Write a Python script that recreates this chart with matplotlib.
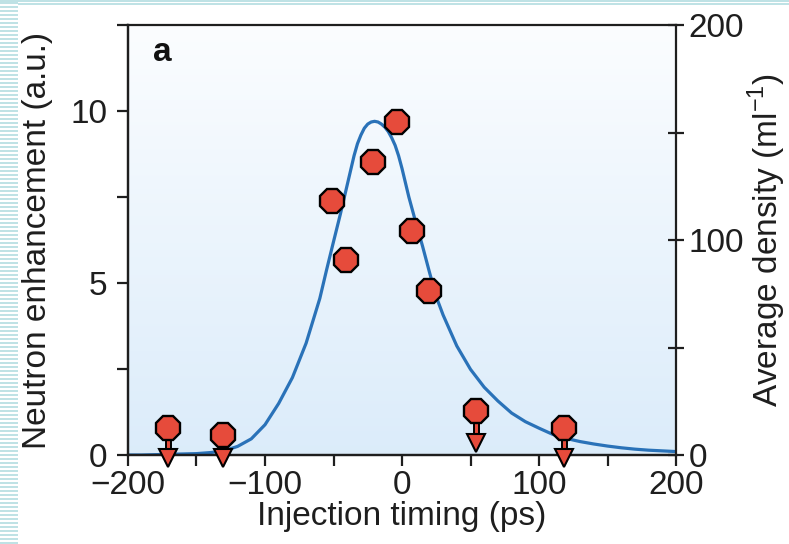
import numpy as np
import matplotlib
matplotlib.use("Agg")
import matplotlib.pyplot as plt
from matplotlib.patches import Rectangle

plt.rcParams['font.family'] = ['Liberation Sans', 'DejaVu Sans']

# ---- data ----
timing = [-171, -131, -51, -41, -21, -4, 7, 20, 54, 118]           # ps
enhancement = [0.79, 0.58, 7.38, 5.66, 8.51, 9.68, 6.5, 4.78, 1.28, 0.79]
limit_timing = [-171, -131, 54, 118]          # points shown as upper limits
limit_from = [0.79, 0.58, 1.28, 0.79]
limit_to = [-0.1, -0.1, 0.35, -0.1]

curve_t = [-200, -190, -180, -170, -160, -150, -140, -130, -120, -110, -100,
           -90, -80, -70, -60, -55, -50, -45, -40, -35, -32.5, -30, -27.5, -25,
           -22.5, -20, -17.5, -15, -12.5, -10, -7.5, -5, -2.5, 0, 5, 10, 15, 20,
           25, 30, 40, 50, 60, 70, 80, 90, 100,
           110, 120, 130, 140, 150, 160, 170, 180, 190, 200]
curve_enh = [0.00, 0.00, 0.01, 0.02, 0.03, 0.04, 0.07, 0.12, 0.25, 0.47, 0.88,
             1.5, 2.25, 3.25, 4.55, 5.39, 6.2, 7.0, 7.85, 8.7, 9.05, 9.3, 9.5, 9.62,
             9.68, 9.70, 9.68, 9.62, 9.53, 9.40, 9.22, 9.0, 8.7, 8.33, 7.5, 6.77, 6.07, 5.32,
             4.6, 4.07, 3.17, 2.49, 1.97, 1.57, 1.22, 0.97, 0.78,
             0.6, 0.48, 0.39, 0.32, 0.26, 0.21, 0.17, 0.14, 0.12, 0.10]
density_per_unit = 200 / 12.5
curve_density = [v * density_per_unit for v in curve_enh]

xticks = [-200, -100, 0, 100, 200]
yticks_left = [0, 5, 10]
yticks_right = [0, 100, 200]

RED = '#E64B3B'
BLUE = '#2A72B8'
INK = '#1E1E1E'
FS = 24

fig = plt.figure(figsize=(7.89, 5.44), dpi=100)

# decorative border stripes of the scanned page
for k in range(0, 544, 4):
    fig.patches.append(Rectangle((0, k / 544), 18 / 789, 2 / 544, transform=fig.transFigure,
                                 facecolor='#BFE2E5', edgecolor='none'))
fig.patches.append(Rectangle((0, 1 - 1.7 / 544), 1, 1.7 / 544, transform=fig.transFigure,
                             facecolor='#BFE2E5', edgecolor='none'))
fig.patches.append(Rectangle((18 / 789, 1 - 5 / 544), 1, 1.7 / 544, transform=fig.transFigure,
                             facecolor='#BFE2E5', edgecolor='none'))

ax = fig.add_axes([128 / 789, 89 / 544, 548 / 789, 430 / 544])
ax2 = ax.twinx()
ax.set_zorder(ax2.get_zorder() + 1)
ax.patch.set_visible(False)

# gradient background
grad = np.linspace(0, 1, 256).reshape(-1, 1)
top = np.array([0.985, 0.992, 1.0])
bot = np.array([0.86, 0.925, 0.98])
img = top[None, None, :] * (1 - grad[:, :, None]) + bot[None, None, :] * grad[:, :, None]
ax2.imshow(img, extent=[-200, 200, 0, 200], aspect='auto', zorder=0)

ax2.plot(curve_t, curve_density, color=BLUE, lw=2.3, zorder=2,
         solid_capstyle='round', solid_joinstyle='round')

# upper-limit arrows
for t, y0, y1 in zip(limit_timing, limit_from, limit_to):
    ax.plot([t, t], [y0, y1], color='black', lw=5.0, zorder=3, clip_on=False, solid_capstyle='butt')
    ax.plot([t, t], [y0, y1], color=RED, lw=2.2, zorder=4, clip_on=False, solid_capstyle='butt')
ax.plot(limit_timing, limit_to, linestyle='none', marker='v', ms=13, mfc=RED, mec='black',
        mew=1.5, zorder=5, clip_on=False)

ax.plot(timing, enhancement, linestyle='none', marker='8', ms=18.5, mfc=RED, mec='black',
        mew=1.7, zorder=6, clip_on=False)

ax.set_xlim(-200, 200)
ax.set_ylim(0, 12.5)
ax2.set_ylim(0, 200)

ax.set_xticks(xticks)
ax.set_xticklabels(['\u2212200', '\u2212100', '0', '100', '200'])
ax.set_xticks([-150, -50, 50, 150], minor=True)
ax.set_yticks(yticks_left)
ax.set_yticks([2.5, 7.5, 12.5], minor=True)
ax2.set_yticks(yticks_right)
ax2.set_yticks([50, 150], minor=True)

for a in (ax, ax2):
    for s in a.spines.values():
        s.set_linewidth(1.6)
        s.set_color(INK)
ax2.spines['top'].set_visible(False)
ax.spines['right'].set_visible(False)

ax.tick_params(axis='x', which='both', direction='out', length=8, width=1.6, pad=3,
               labelsize=FS, colors=INK, top=False)
ax.tick_params(axis='y', which='both', direction='out', length=8, width=1.6, pad=7,
               labelsize=FS, colors=INK, right=False)
ax2.tick_params(axis='y', which='both', direction='inout', length=12, width=1.6, pad=3,
                labelsize=FS, colors=INK)

ax.set_xlabel('Injection timing (ps)', fontsize=FS, labelpad=0, color=INK)
ax.set_ylabel('Neutron enhancement (a.u.)', fontsize=FS, labelpad=12, color=INK)
ax2.set_ylabel('Average density (ml$^{\\mathregular{\u22121}}$)', fontsize=FS, labelpad=1,
               color=INK)

ax.text(0.045, 0.935, 'a', transform=ax.transAxes, fontsize=FS, fontweight='bold',
        va='center', ha='left', color='#111111')

fig.savefig('out.png', dpi=100, facecolor='white')
